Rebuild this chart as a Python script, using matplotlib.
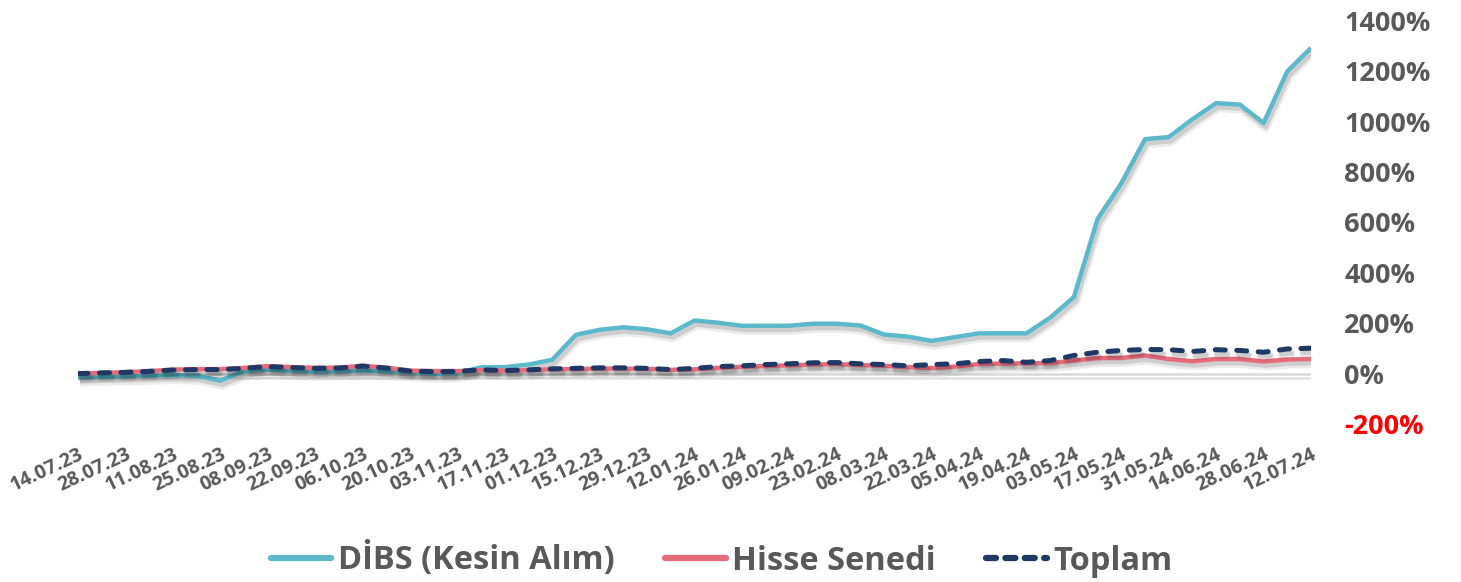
import matplotlib
matplotlib.use("Agg")
import matplotlib.pyplot as plt
import matplotlib.patheffects as pe
from matplotlib.lines import Line2D

plt.rcParams['font.family'] = ['Open Sans', 'DejaVu Sans']

tick_labels = ["14.07.23", "28.07.23", "11.08.23", "25.08.23", "08.09.23", "22.09.23",
               "06.10.23", "20.10.23", "03.11.23", "17.11.23", "01.12.23", "15.12.23",
               "29.12.23", "12.01.24", "26.01.24", "09.02.24", "23.02.24", "08.03.24",
               "22.03.24", "05.04.24", "19.04.24", "03.05.24", "17.05.24", "31.05.24",
               "14.06.24", "28.06.24", "12.07.24"]

dibs = [-15, -12, -10, -8, -6, -8, -28, 10, 16, 12, 8, 10, 12, 10, 5, 0, 2, 25, 26, 36,
        55, 154, 174, 184, 176, 160, 211, 202, 190, 190, 190, 198, 198, 191, 155, 147,
        130, 145, 160, 160, 160, 222, 304, 614, 756, 931, 939, 1010, 1074, 1068, 995,
        1200, 1293]
hisse = [0, 3, 6, 10, 16, 18, 18, 23, 30, 26, 23, 24, 31, 24, 12, 10, 10, 14, 12, 14,
         17, 18, 20, 20, 19, 15, 17, 23, 27, 30, 33, 36, 38, 34, 31, 26, 22, 28, 38, 40,
         41, 42, 52, 62, 62, 72, 58, 49, 58, 58, 48, 56, 58]
toplam = [0, 3, 5, 9, 14, 16, 16, 21, 28, 24, 21, 22, 30, 22, 10, 8, 9, 15, 12, 15,
          19, 21, 23, 23, 21, 16, 21, 28, 31, 36, 39, 43, 44, 39, 36, 31, 36, 39, 48, 52,
          45, 52, 72, 85, 92, 96, 95, 88, 95, 92, 85, 98, 101]

series_names = ["DİBS (Kesin Alım)", "Hisse Senedi", "Toplam"]
c_dibs = "#5BB9C9"
c_hisse = "#E66C7C"
c_top = "#1F3864"
gray = "#595959"

W, H = 1461, 582
fig = plt.figure(figsize=(W / 100, H / 100), dpi=100)
ax = fig.add_axes([78 / W, (H - 424) / H, (1311 - 78) / W, (424 - 21) / H])

x = list(range(len(dibs)))
shadow = [pe.SimpleLineShadow(offset=(1.5, -3.5), shadow_color='k', alpha=0.08, linewidth=6),
          pe.SimpleLineShadow(offset=(1.5, -3), shadow_color='k', alpha=0.12),
          pe.Normal()]

ax.axhline(0, color="#D9D9D9", lw=1.8, zorder=1,
           path_effects=[pe.SimpleLineShadow(offset=(1.5, -3), shadow_color='k', alpha=0.12), pe.Normal()])
ax.plot(x, dibs, color=c_dibs, lw=3.2, solid_capstyle='butt', zorder=3, path_effects=shadow)
ax.plot(x, hisse, color=c_hisse, lw=3.2, solid_capstyle='butt', zorder=4, path_effects=shadow)
ax.plot(x, toplam, color=c_top, lw=3.6, dashes=(2.0, 2.3), dash_capstyle='round', zorder=5,
        path_effects=shadow)

ax.set_xlim(0, len(dibs) - 1)
ax.set_ylim(-200, 1400)
for s in ax.spines.values():
    s.set_visible(False)

ax.set_xticks(list(range(0, len(dibs), 2)))
ax.set_xticklabels(tick_labels, rotation=25, ha='right', va='top', rotation_mode='anchor',
                   fontsize=14, fontweight='bold', color=gray)
ax.tick_params(axis='x', length=0, pad=15)

yt = list(range(-200, 1401, 200))
ax.yaxis.tick_right()
ax.set_yticks(yt)
ax.set_yticklabels([f"{v}%" for v in yt], fontsize=19.5, fontweight='bold', color=gray)
ax.tick_params(axis='y', length=0, pad=24)
for lbl, v in zip(ax.get_yticklabels(), yt):
    if v < 0:
        lbl.set_color("#FF0000")

handles = [Line2D([], [], color=c_dibs, lw=4.5, solid_capstyle='round'),
           Line2D([], [], color=c_hisse, lw=4.5, solid_capstyle='round'),
           Line2D([], [], color=c_top, lw=4.5, dashes=(1.6, 1.5), dash_capstyle='round')]
leg = fig.legend(handles, series_names, loc='center', bbox_to_anchor=(0.494, 1 - 560 / H),
                 ncol=3, frameon=False, handlelength=1.85, handletextpad=0.2,
                 columnspacing=1.55, prop={'size': 23.5, 'weight': 'bold'})
for t in leg.get_texts():
    t.set_color(gray)

fig.savefig("out.png", dpi=100)
